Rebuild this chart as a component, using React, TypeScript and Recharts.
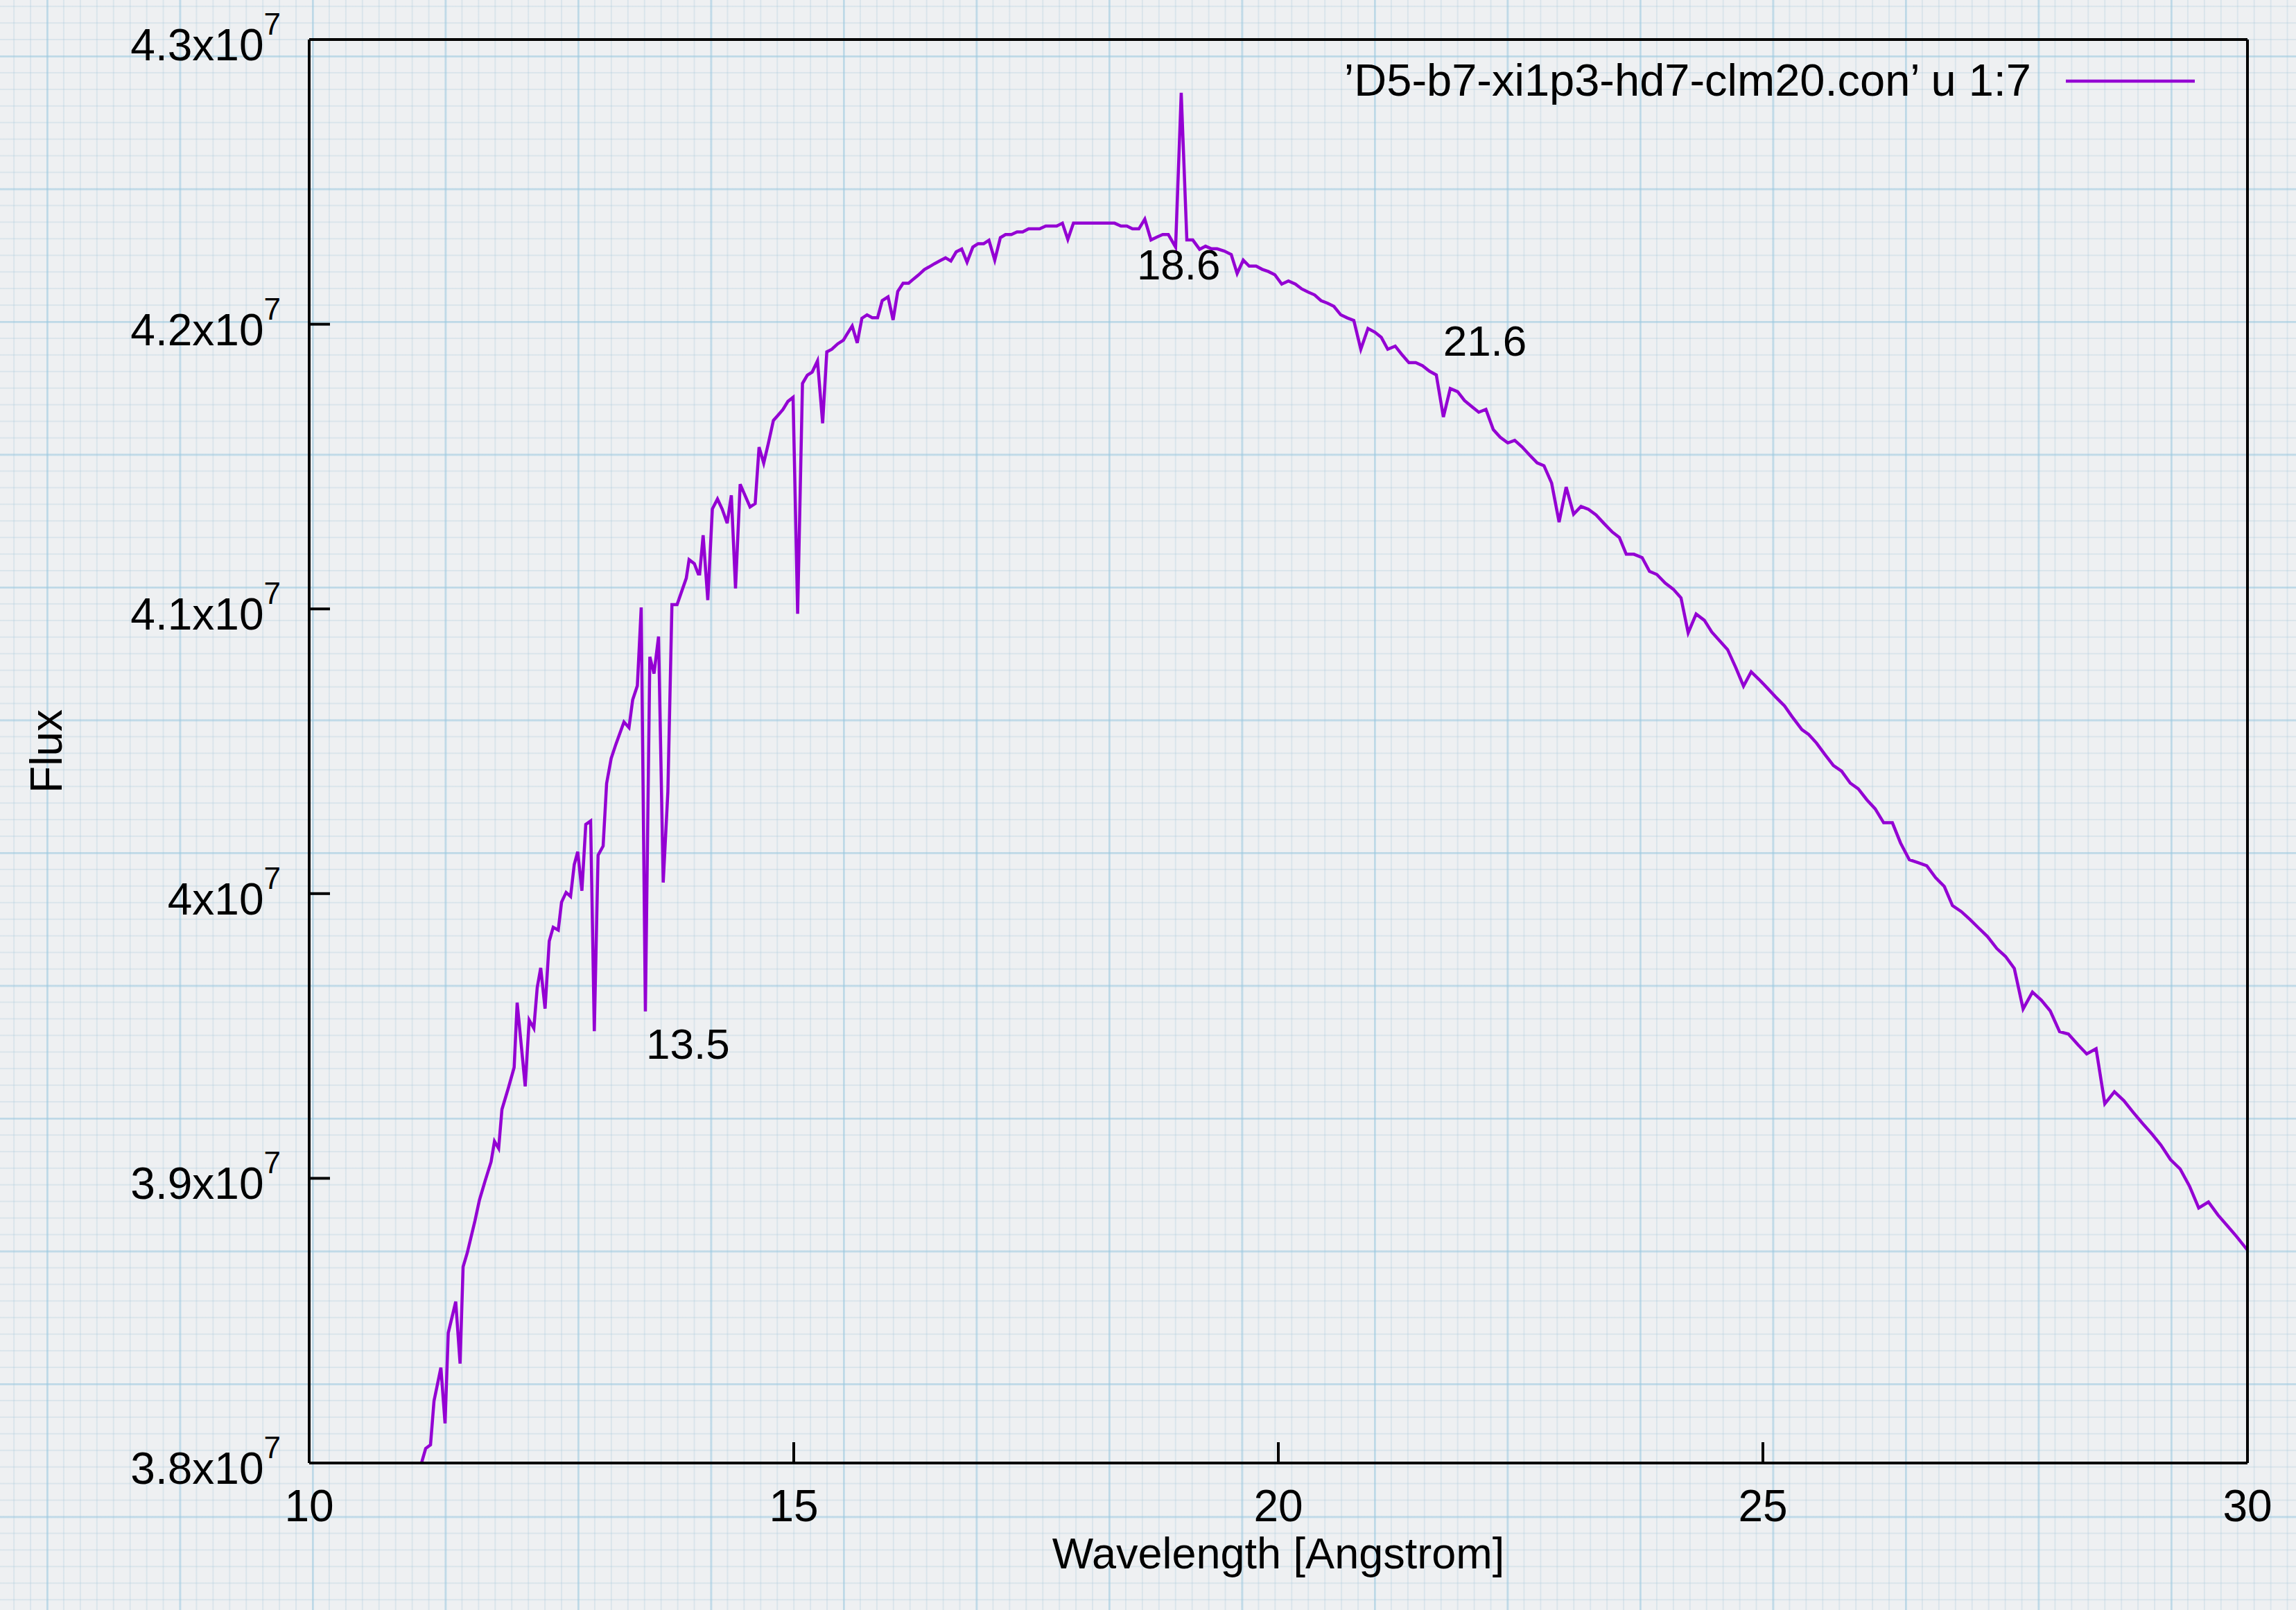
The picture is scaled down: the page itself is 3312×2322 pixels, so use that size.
import React from "react";
import { LineChart, Line, XAxis, YAxis, ReferenceDot, Legend } from "recharts";

const FONT = '"Liberation Sans", Arial, Helvetica, sans-serif';
const VIOLET = "#9400D3";

// wavelength in Angstrom
const wavelength = [
  11.1, 11.149, 11.202, 11.252, 11.288, 11.359, 11.402, 11.435, 11.512, 11.557, 11.588, 11.631, 11.71, 11.757,
  11.817, 11.877, 11.912, 11.955, 11.989, 12.055, 12.115, 12.146, 12.229, 12.27, 12.318, 12.353, 12.389, 12.434,
  12.477, 12.518, 12.57, 12.604, 12.651, 12.697, 12.735, 12.771, 12.814, 12.854, 12.904, 12.942, 12.981, 13.033,
  13.069, 13.116, 13.164, 13.248, 13.3, 13.338, 13.386, 13.426, 13.469, 13.515, 13.558, 13.605, 13.653, 13.701,
  13.743, 13.796, 13.891, 13.92, 13.974, 14.015, 14.029, 14.065, 14.113, 14.16, 14.213, 14.261, 14.313, 14.356,
  14.399, 14.447, 14.499, 14.549, 14.602, 14.642, 14.69, 14.737, 14.79, 14.84, 14.888, 14.94, 14.993, 15.04,
  15.09, 15.14, 15.19, 15.245, 15.298, 15.341, 15.393, 15.453, 15.512, 15.553, 15.603, 15.655, 15.703, 15.756,
  15.81, 15.865, 15.913, 15.973, 16.025, 16.073, 16.128, 16.185, 16.24, 16.287, 16.347, 16.395, 16.454, 16.509,
  16.566, 16.621, 16.676, 16.733, 16.788, 16.848, 16.902, 16.96, 17.014, 17.074, 17.132, 17.185, 17.245, 17.304,
  17.362, 17.423, 17.537, 17.6, 17.714, 17.772, 17.828, 17.886, 18.31, 18.376, 18.437, 18.495, 18.561, 18.622,
  18.686, 18.746, 18.807, 18.865, 18.94, 18.998, 19.056, 19.117, 19.188, 19.249, 19.31, 19.368, 19.442, 19.514,
  19.575, 19.638, 19.699, 19.771, 19.832, 19.898, 19.964, 20.035, 20.104, 20.176, 20.242, 20.308, 20.374, 20.44,
  20.507, 20.573, 20.644, 20.713, 20.779, 20.851, 20.925, 20.996, 21.062, 21.129, 21.206, 21.276, 21.347, 21.418,
  21.488, 21.559, 21.63, 21.703, 21.774, 21.85, 21.921, 21.995, 22.068, 22.142, 22.218, 22.289, 22.368, 22.439,
  22.515, 22.594, 22.671, 22.741, 22.82, 22.897, 22.97, 23.047, 23.123, 23.199, 23.279, 23.358, 23.443, 23.519,
  23.59, 23.669, 23.754, 23.83, 23.906, 23.991, 24.076, 24.155, 24.229, 24.311, 24.396, 24.472, 24.551, 24.636,
  24.721, 24.8, 24.879, 24.961, 25.046, 25.131, 25.224, 25.3, 25.403, 25.472, 25.553, 25.637, 25.728, 25.812,
  25.902, 25.984, 26.074, 26.158, 26.246, 26.336, 26.42, 26.511, 26.601, 26.691, 26.782, 26.872, 26.956, 27.047,
  27.137, 27.227, 27.318, 27.414, 27.504, 27.594, 27.685, 27.781, 27.872, 27.965, 28.061, 28.152, 28.251, 28.341,
  28.438, 28.528, 28.627, 28.724, 28.823, 28.919, 29.016, 29.106, 29.205, 29.305, 29.401, 29.497, 29.597, 29.696,
  29.793, 29.889, 29.997,
];

// column 7, in units of 1e7
const fluxE7 = [
  3.79, 3.7988, 3.8051, 3.8064, 3.8218, 3.8335, 3.8139, 3.8457, 3.8567, 3.8349, 3.8689, 3.8738, 3.885, 3.8924,
  3.8993, 3.9058, 3.913, 3.9105, 3.9242, 3.9317, 3.939, 3.9617, 3.9323, 3.9556, 3.9527, 3.967, 3.9739, 3.9596,
  3.9833, 3.9882, 3.9872, 3.997, 4.0004, 3.999, 4.0102, 4.0147, 4.001, 4.0243, 4.0255, 3.9517, 4.0135, 4.0167,
  4.0387, 4.0475, 4.0524, 4.0603, 4.0583, 4.0681, 4.073, 4.1005, 3.9586, 4.0832, 4.0773, 4.0903, 4.0039, 4.0357,
  4.1015, 4.1015, 4.1108, 4.1173, 4.1159, 4.1123, 4.1123, 4.1259, 4.1031, 4.1351, 4.1386, 4.1351, 4.1301, 4.1399,
  4.1072, 4.1438, 4.1397, 4.1358, 4.137, 4.1568, 4.1512, 4.158, 4.1662, 4.1681, 4.17, 4.1729, 4.1743, 4.0983,
  4.1792, 4.1821, 4.1832, 4.1871, 4.1652, 4.1903, 4.1912, 4.1931, 4.1944, 4.1967, 4.1994, 4.1934, 4.2021, 4.2033,
  4.2023, 4.2023, 4.2083, 4.2096, 4.2015, 4.2115, 4.2144, 4.2144, 4.216, 4.2173, 4.2192, 4.2201, 4.2213, 4.2223,
  4.2233, 4.2222, 4.2254, 4.2264, 4.2218, 4.2271, 4.2283, 4.2283, 4.2295, 4.2225, 4.2304, 4.2315, 4.2315, 4.2324,
  4.2324, 4.2335, 4.2335, 4.2345, 4.2345, 4.2355, 4.2298, 4.2355, 4.2355, 4.2345, 4.2345, 4.2335, 4.2335, 4.2369,
  4.2296, 4.2306, 4.2315, 4.2315, 4.2271, 4.2813, 4.2296, 4.2296, 4.2263, 4.2274, 4.2265, 4.2265, 4.2257, 4.2245,
  4.2178, 4.2225, 4.2204, 4.2204, 4.2193, 4.2185, 4.2174, 4.2141, 4.2152, 4.2141, 4.2124, 4.2113, 4.2103, 4.2083,
  4.2074, 4.2063, 4.2033, 4.2022, 4.2013, 4.1912, 4.1985, 4.1972, 4.1954, 4.1912, 4.1923, 4.1893, 4.1865, 4.1865,
  4.1854, 4.1835, 4.1822, 4.1674, 4.1774, 4.1763, 4.1732, 4.1711, 4.1691, 4.1701, 4.163, 4.1603, 4.1583, 4.1592,
  4.1569, 4.154, 4.1513, 4.1503, 4.1442, 4.1305, 4.1428, 4.1333, 4.136, 4.135, 4.133, 4.1301, 4.1271, 4.1251,
  4.1192, 4.1192, 4.118, 4.1132, 4.1121, 4.1091, 4.1069, 4.1039, 4.0916, 4.0982, 4.096, 4.0919, 4.0889, 4.0857,
  4.0793, 4.0729, 4.0779, 4.0752, 4.0722, 4.0691, 4.0659, 4.0622, 4.0576, 4.0559, 4.0529, 4.049, 4.045, 4.043,
  4.0388, 4.0368, 4.0329, 4.0298, 4.0249, 4.0249, 4.0178, 4.0119, 4.0109, 4.0098, 4.0056, 4.0025, 3.9958, 3.9937,
  3.9909, 3.9879, 3.9849, 3.9807, 3.9779, 3.9737, 3.9595, 3.9654, 3.9626, 3.9588, 3.9515, 3.9507, 3.9469, 3.9437,
  3.9455, 3.9262, 3.9304, 3.9273, 3.9231, 3.9192, 3.9155, 3.9117, 3.9066, 3.9033, 3.8973, 3.8896, 3.8917, 3.8871,
  3.8833, 3.8795, 3.8749,
];

const xTicks = [10, 15, 20, 25, 30];
const yTicks = [3.8e7, 3.9e7, 4.0e7, 4.1e7, 4.2e7, 4.3e7];

// gnuplot "set label" texts and where they sit (data coords, left/baseline)
const noteText = ["13.5", "18.6", "21.6"];
const noteX = [13.476, 18.54, 21.7];
const noteY = [3.942e7, 4.2157e7, 4.1889e7];

const seriesName = "\u2019D5-b7-xi1p3-hd7-clm20.con\u2019 u 1:7";

const data = wavelength.map((w, i) => ({ w, flux: fluxE7[i] * 1e7 }));

function YTick({ x, y, payload }: any) {
  const mant = Number((payload.value / 1e7).toFixed(1)).toString();
  return (
    <text x={x} y={y + 30} textAnchor="end" fontFamily={FONT} fontSize={64} fill="#000">
      {mant}x10
      <tspan dy={-37} fontSize={44}>
        7
      </tspan>
    </text>
  );
}

function XTick({ x, y, payload }: any) {
  return (
    <text x={x} y={y + 84} textAnchor="middle" fontFamily={FONT} fontSize={64} fill="#000">
      {payload.value}
    </text>
  );
}

function LegendBox({ payload }: any) {
  const item = payload && payload[0];
  if (!item) return null;
  return (
    <svg width={3312} height={200} style={{ display: "block" }}>
      <text x={2930} y={138} textAnchor="end" fontFamily={FONT} fontSize={65} fill="#000">
        {item.value}
      </text>
      <line x1={2980} x2={3166} y1={117} y2={117} stroke={item.color} strokeWidth={4.5} />
    </svg>
  );
}

const paper = {
  backgroundColor: "#eef0f2",
  backgroundImage: [
    "linear-gradient(to right, rgba(150,200,225,0.42) 3px, transparent 3px)",
    "linear-gradient(to bottom, rgba(150,200,225,0.42) 3px, transparent 3px)",
    "linear-gradient(to right, rgba(160,195,215,0.25) 1.5px, transparent 1.5px)",
    "linear-gradient(to bottom, rgba(160,195,215,0.25) 1.5px, transparent 1.5px)",
  ].join(","),
  backgroundSize: "191.5px 100%, 100% 191.5px, 23.94px 100%, 100% 23.94px",
  backgroundPosition: "67px 0, 0 80px, 67px 0, 0 80px",
};

export default function App() {
  return (
    <div style={{ position: "fixed", left: 0, top: 0, width: 3312, height: 2322, ...paper }}>
      <LineChart width={3312} height={2322} data={data} margin={{ top: 0, right: 0, bottom: 0, left: 0 }}>
        <XAxis
          xAxisId="bottom"
          dataKey="w"
          type="number"
          domain={[10, 30]}
          ticks={xTicks}
          interval={0}
          allowDataOverflow
          height={212}
          tickSize={-30}
          tickMargin={30}
          tick={<XTick />}
          axisLine={{ stroke: "#000", strokeWidth: 4 }}
          tickLine={{ stroke: "#000", strokeWidth: 4 }}
          label={{
            content: (p: any) => (
              <text
                x={p.viewBox.x + p.viewBox.width / 2}
                y={p.viewBox.y + 152}
                textAnchor="middle"
                fontFamily={FONT}
                fontSize={63}
                fill="#000"
              >
                Wavelength [Angstrom]
              </text>
            ),
          }}
        />
        <XAxis
          xAxisId="top"
          orientation="top"
          type="number"
          domain={[10, 30]}
          ticks={xTicks}
          interval={0}
          allowDataOverflow
          height={57}
          tickSize={-30}
          tick={false}
          axisLine={{ stroke: "#000", strokeWidth: 4 }}
          tickLine={{ stroke: "#000", strokeWidth: 4 }}
        />
        <YAxis
          yAxisId="left"
          type="number"
          domain={[3.8e7, 4.3e7]}
          ticks={yTicks}
          interval={0}
          allowDataOverflow
          width={446}
          tickSize={-30}
          tickMargin={71}
          tick={<YTick />}
          axisLine={{ stroke: "#000", strokeWidth: 4 }}
          tickLine={{ stroke: "#000", strokeWidth: 4 }}
          label={{
            content: (p: any) => {
              const cx = p.viewBox.x + 89;
              const cy = p.viewBox.y + p.viewBox.height / 2;
              return (
                <text
                  x={cx}
                  y={cy}
                  transform={`rotate(-90 ${cx} ${cy})`}
                  textAnchor="middle"
                  fontFamily={FONT}
                  fontSize={64}
                  fill="#000"
                >
                  Flux
                </text>
              );
            },
          }}
        />
        <YAxis
          yAxisId="right"
          orientation="right"
          type="number"
          domain={[3.8e7, 4.3e7]}
          ticks={yTicks}
          interval={0}
          allowDataOverflow
          width={70}
          tickSize={-30}
          tick={false}
          axisLine={{ stroke: "#000", strokeWidth: 4 }}
          tickLine={{ stroke: "#000", strokeWidth: 4 }}
        />
        <Legend
          layout="horizontal"
          verticalAlign="middle"
          align="center"
          content={<LegendBox />}
          wrapperStyle={{ left: 0, top: 0, width: 3312, height: 200 }}
        />
        <Line
          xAxisId="bottom"
          yAxisId="left"
          type="linear"
          dataKey="flux"
          name={seriesName}
          stroke={VIOLET}
          strokeWidth={4.5}
          dot={false}
          activeDot={false}
          isAnimationActive={false}
        />
        {noteText.map((t, i) => (
          <ReferenceDot
            key={t}
            xAxisId="bottom"
            yAxisId="left"
            x={noteX[i]}
            y={noteY[i]}
            r={0}
            fill="none"
            stroke="none"
            label={{
              content: (p: any) => (
                <text x={p.viewBox.x} y={p.viewBox.y} fontFamily={FONT} fontSize={62} fill="#000">
                  {t}
                </text>
              ),
            }}
          />
        ))}
      </LineChart>
    </div>
  );
}
